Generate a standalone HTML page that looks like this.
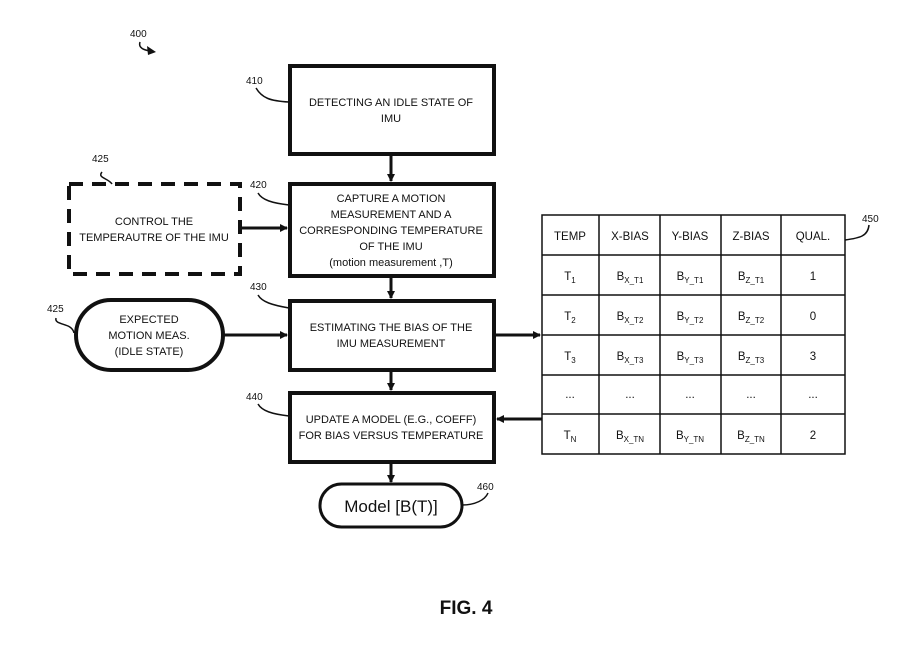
<!DOCTYPE html>
<html><head><style>
body{margin:0;background:#fff}
svg text{font-family:"Liberation Sans",sans-serif;fill:#111}
</style></head><body>
<svg width="909" height="652" viewBox="0 0 909 652" xmlns="http://www.w3.org/2000/svg">
<defs><marker id="a" markerWidth="8" markerHeight="8" refX="7" refY="4" orient="auto" markerUnits="userSpaceOnUse"><path d="M0,0 L8,4 L0,8 z" fill="#111"/></marker></defs>
<g fill="none" stroke="#111">
<rect x="290" y="66" width="204" height="88" stroke-width="4"/>
<rect x="290" y="184" width="204" height="92" stroke-width="4"/>
<rect x="290" y="301" width="204" height="69" stroke-width="4"/>
<rect x="290" y="393" width="204" height="69" stroke-width="4"/>
<rect x="69" y="184" width="171" height="90" stroke-width="4" stroke-dasharray="14,9"/>
<rect x="76" y="300" width="147" height="70" rx="35" stroke-width="4"/>
<rect x="320" y="484" width="142" height="43" rx="21.5" stroke-width="3"/>
<g stroke-width="3">
<line x1="391" y1="154" x2="391" y2="181" marker-end="url(#a)"/>
<line x1="391" y1="276" x2="391" y2="298" marker-end="url(#a)"/>
<line x1="391" y1="370" x2="391" y2="390" marker-end="url(#a)"/>
<line x1="391" y1="462" x2="391" y2="482" marker-end="url(#a)"/>
<polyline points="240,228 262,228 287,228" marker-end="url(#a)"/>
<line x1="223" y1="335" x2="287" y2="335" marker-end="url(#a)"/>
<line x1="494" y1="335" x2="540" y2="335" marker-end="url(#a)"/>
<line x1="542" y1="419" x2="497" y2="419" marker-end="url(#a)"/>
</g>
<g stroke-width="1.5">
<rect x="542" y="215" width="303" height="239"/>
<line x1="599" y1="215" x2="599" y2="454"/><line x1="660" y1="215" x2="660" y2="454"/>
<line x1="721" y1="215" x2="721" y2="454"/><line x1="781" y1="215" x2="781" y2="454"/>
<line x1="542" y1="255" x2="845" y2="255"/><line x1="542" y1="295" x2="845" y2="295"/>
<line x1="542" y1="335" x2="845" y2="335"/><line x1="542" y1="375" x2="845" y2="375"/>
<line x1="542" y1="414" x2="845" y2="414"/>
<path d="M256,88 C262,98 270,101 289,102"/>
<path d="M258,193 C262,200 272,203 289,205"/>
<path d="M258,295 C262,302 272,305 289,308"/>
<path d="M258,404 C262,411 272,414 289,416"/>
<path d="M102,172 C97,178 108,178 112,184"/>
<path d="M56,318 C54,326 72,322 74,333"/>
<path d="M845,240 C860,238 868,236 869,225"/>
<path d="M462,505 C475,505 485,500 488,493"/>
<path d="M140,42 C138,48 144,50 150,51"/>
</g>
</g>
<path d="M147,46 L156,52 L148,55 z" fill="#111"/>
<g font-size="10">
<text x="130" y="37">400</text><text x="246" y="84">410</text><text x="250" y="188">420</text>
<text x="250" y="290">430</text><text x="246" y="400">440</text><text x="92" y="162">425</text>
<text x="47" y="312">425</text><text x="862" y="222">450</text><text x="477" y="490">460</text>
</g>
<g font-size="11" text-anchor="middle">
<text x="391" y="106">DETECTING AN IDLE STATE OF</text><text x="391" y="122">IMU</text>
<text x="391" y="202">CAPTURE A MOTION</text><text x="391" y="218">MEASUREMENT AND A</text>
<text x="391" y="234">CORRESPONDING TEMPERATURE</text><text x="391" y="250">OF THE IMU</text>
<text x="391" y="266">(motion measurement ,T)</text>
<text x="391" y="331">ESTIMATING THE BIAS OF THE</text><text x="391" y="347">IMU MEASUREMENT</text>
<text x="391" y="423">UPDATE A MODEL (E.G., COEFF)</text><text x="391" y="439">FOR BIAS VERSUS TEMPERATURE</text>
<text x="154" y="225">CONTROL THE</text><text x="154" y="241">TEMPERAUTRE OF THE IMU</text>
<text x="149" y="323">EXPECTED</text><text x="149" y="339">MOTION MEAS.</text><text x="149" y="355">(IDLE STATE)</text>
<text x="391" y="512" font-size="17">Model [B(T)]</text>
<g font-size="11.5">
<text x="570" y="240">TEMP</text><text x="630" y="240">X-BIAS</text><text x="690" y="240">Y-BIAS</text><text x="751" y="240">Z-BIAS</text><text x="813" y="240">QUAL.</text>
<text x="570" y="280">T<tspan font-size="8" dy="3">1</tspan></text>
<text x="570" y="320">T<tspan font-size="8" dy="3">2</tspan></text>
<text x="570" y="360">T<tspan font-size="8" dy="3">3</tspan></text>
<text x="570" y="398">...</text>
<text x="570" y="439">T<tspan font-size="8" dy="3">N</tspan></text>
<text x="630" y="280">B<tspan font-size="8" dy="3">X_T1</tspan></text><text x="690" y="280">B<tspan font-size="8" dy="3">Y_T1</tspan></text><text x="751" y="280">B<tspan font-size="8" dy="3">Z_T1</tspan></text><text x="813" y="280">1</text>
<text x="630" y="320">B<tspan font-size="8" dy="3">X_T2</tspan></text><text x="690" y="320">B<tspan font-size="8" dy="3">Y_T2</tspan></text><text x="751" y="320">B<tspan font-size="8" dy="3">Z_T2</tspan></text><text x="813" y="320">0</text>
<text x="630" y="360">B<tspan font-size="8" dy="3">X_T3</tspan></text><text x="690" y="360">B<tspan font-size="8" dy="3">Y_T3</tspan></text><text x="751" y="360">B<tspan font-size="8" dy="3">Z_T3</tspan></text><text x="813" y="360">3</text>
<text x="630" y="398">...</text><text x="690" y="398">...</text><text x="751" y="398">...</text><text x="813" y="398">...</text>
<text x="630" y="439">B<tspan font-size="8" dy="3">X_TN</tspan></text><text x="690" y="439">B<tspan font-size="8" dy="3">Y_TN</tspan></text><text x="751" y="439">B<tspan font-size="8" dy="3">Z_TN</tspan></text><text x="813" y="439">2</text>
</g>
<text x="466" y="614" font-size="19" font-weight="bold">FIG. 4</text>
</g>
</svg>
</body></html>
